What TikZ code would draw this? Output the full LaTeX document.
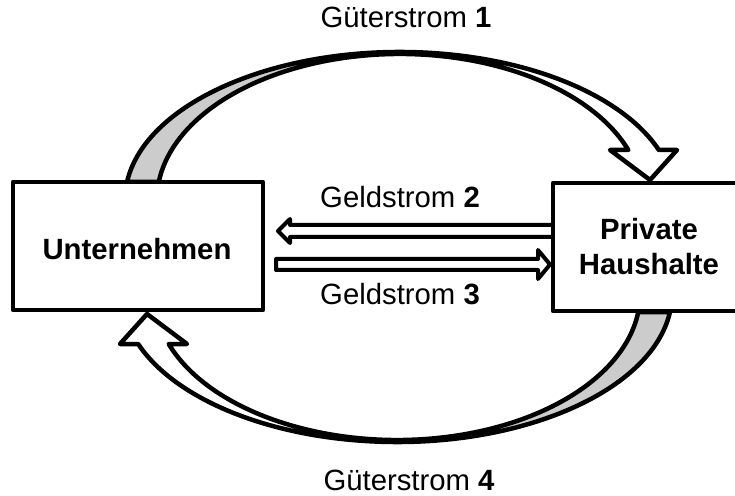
\documentclass[tikz,border=0pt]{standalone}
\usepackage{fontspec}
\setmainfont{Liberation Sans}
\definecolor{backgray}{gray}{0.8}
\tikzset{
  outl/.style={draw=black, line width=4.5pt, line join=round},
  thinoutl/.style={draw=black, line width=4pt, line join=round, fill=white},
  box/.style={outl, fill=white, rectangle, inner sep=0pt},
  lbl/.style={font=\fontsize{29.3}{35}\selectfont, inner sep=0pt, anchor=base},
  blbl/.style={font=\fontsize{29.3}{35}\selectfont\bfseries, inner sep=0pt, anchor=base},
  gutpic/.pic={
    % gray back part
    \fill[backgray] (1.5,47) ++(173:275 and 148)
      arc[start angle=173, end angle=90, x radius=275, y radius=148]
      -- (1.5,193)
      arc[start angle=90, end angle=172.9, x radius=243.06, y radius=146] -- cycle;
    % white front part with head
    \fill[white] (1.5,195)
      arc[start angle=90, end angle=19.76, x radius=275, y radius=148]
      -- (278.5,97) -- (251.5,67) -- (211.5,97) -- (229.8,97.04)
      arc[start angle=20.04, end angle=90, x radius=243.06, y radius=146] -- cycle;
    % outline
    \draw[outl] (1.5,47) ++(173:275 and 148)
      arc[start angle=173, end angle=19.76, x radius=275, y radius=148]
      -- (278.5,97) -- (251.5,67) -- (211.5,97) -- (229.8,97.04)
      arc[start angle=20.04, end angle=172.9, x radius=243.06, y radius=146] -- cycle;
  }
}
\begin{document}
\begin{tikzpicture}[x=1pt,y=1pt]
\useasboundingbox (0,0) rectangle (735,495);

% curved goods flows
\pic at (398.5,248) {gutpic};
\pic[rotate=180] at (398.5,248) {gutpic};

% money flows
\draw[thinoutl] (278,264) -- (290,276) -- (290,270) -- (553,270) -- (553,258)
  -- (290,258) -- (290,252) -- cycle;
\draw[thinoutl] (276,236) -- (538,236) -- (538,245) -- (550,230.5) -- (538,216)
  -- (538,225) -- (276,225) -- cycle;

% boxes
\node[box, minimum width=250pt, minimum height=128pt] (U) at (138,249) {};
\node[box, minimum width=227pt, minimum height=128pt] (H) at (666.5,248) {};

% labels
\node[blbl] (ut) at (137,235) {Unternehmen};
\node[blbl] (pt1) at (649,255) {Private};
\node[blbl] (pt2) at (649,220) {Haushalte};
\node[lbl] (g1) at (406,467) {Güterstrom \textbf{1}};
\node[lbl] (g4) at (409,5) {Güterstrom \textbf{4}};
\node[lbl] (g2) at (400,287) {Geldstrom \textbf{2}};
\node[lbl] (g3) at (400,190) {Geldstrom \textbf{3}};
\end{tikzpicture}
\end{document}
